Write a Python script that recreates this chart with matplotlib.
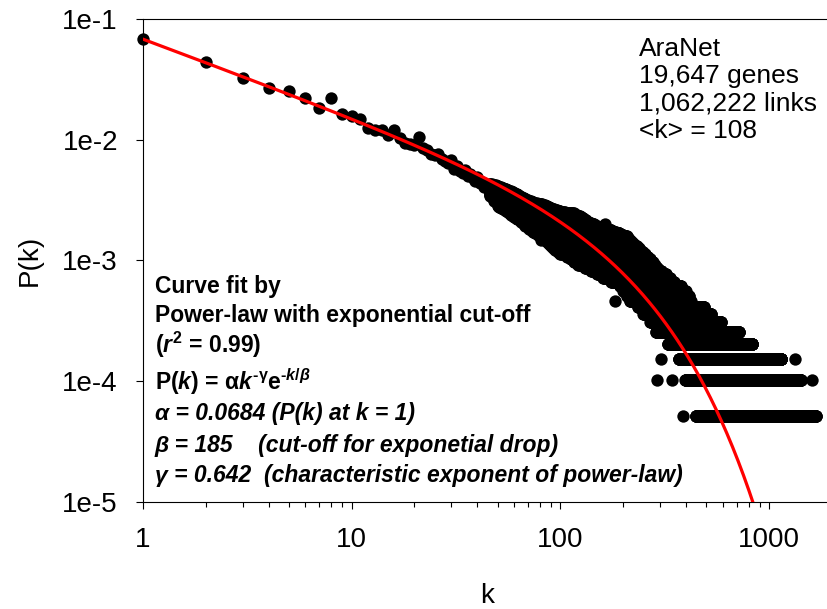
import numpy as np
import matplotlib
matplotlib.use("Agg")
import matplotlib.pyplot as plt
from matplotlib.ticker import FixedLocator, FixedFormatter, LogLocator, NullLocator, NullFormatter

plt.rcParams["font.family"] = "Liberation Sans"
plt.rcParams["mathtext.fontset"] = "custom"
plt.rcParams["mathtext.rm"] = "Liberation Sans:bold"
plt.rcParams["mathtext.it"] = "Liberation Sans:bold:italic"
plt.rcParams["mathtext.bf"] = "Liberation Sans:bold"

N_GENES = 19647

# power-law with exponential cut-off fit
ALPHA = 0.0684
BETA = 185
GAMMA = 0.642

# gene counts for each low degree
head_deg = list(range(1, 46))
head_cnt = [1330, 870, 633, 528, 499, 436, 356, 432, 320, 308,
            289, 246, 238, 236, 214, 236, 202, 185, 180, 176,
            206, 168, 160, 150, 146, 150, 135, 130, 125, 132,
            112, 118, 108, 104, 110, 98, 102, 94, 90, 96,
            86, 88, 80, 84, 78]

# higher degrees: for each count, the range of degrees that have it
level_cnt = list(range(1, 86))
level_kmin = [446, 397, 369, 327, 287, 270, 250, 235, 215, 208,
              200, 193, 175, 160, 150, 140, 131, 122, 116, 112,
              108, 100, 97, 94, 92, 90, 88, 86, 84, 82,
              80, 78, 76, 74, 72, 71, 70, 68, 67, 66,
              65, 64, 62, 61, 60, 59, 58, 57, 56, 55,
              54, 53, 52, 51, 50, 50, 50, 50, 50, 50,
              48, 48, 48, 48, 48, 48, 46, 46, 46, 46,
              46, 46, 46, 46, 46, 46, 46, 46, 46, 46,
              46, 46, 46, 46, 46]
level_kmax = [1672, 1417, 1144, 831, 717, 588, 527, 488, 421, 413,
              398, 378, 350, 335, 320, 305, 292, 283, 277, 270,
              262, 255, 248, 242, 237, 232, 225, 220, 215, 211,
              208, 200, 192, 184, 175, 166, 158, 150, 145, 140,
              136, 132, 130, 128, 126, 124, 120, 116, 105, 100,
              96, 93, 90, 88, 86, 84, 82, 80, 77, 74,
              72, 70, 68, 67, 66, 65, 64, 63, 62, 61,
              60, 59, 58, 57, 56, 55, 54, 53, 52, 51,
              50, 49, 48, 47, 46]

# stray points outside the main cloud
extra_deg = [385, 289, 341, 1610, 305, 1331, 183, 164, 81]
extra_cnt = [1, 2, 2, 2, 3, 3, 9, 39, 29]

deg = list(head_deg) + extra_deg
cnt = list(head_cnt) + extra_cnt
for c, k0, k1 in zip(level_cnt, level_kmin, level_kmax):
    ks = list(range(k0, k1 + 1))
    deg += ks
    cnt += [c] * len(ks)
deg = np.array(deg, dtype=float)
pk = np.array(cnt, dtype=float) / N_GENES

k_fit = np.logspace(0, np.log10(2000), 500)
p_fit = ALPHA * k_fit ** (-GAMMA) * np.exp(-k_fit / BETA)

x_ticks = [1, 10, 100, 1000]
x_tick_labels = ["1", "10", "100", "1000"]
y_ticks = [1e-5, 1e-4, 1e-3, 1e-2, 1e-1]
y_tick_labels = ["1e-5", "1e-4", "1e-3", "1e-2", "1e-1"]

fig = plt.figure(figsize=(8.27, 6.09), dpi=100)
ax = fig.add_axes([0.1729, 0.1765, 0.833, 0.7923])

ax.plot(deg, pk, "o", color="black", ms=8.9, mew=0, clip_on=False, zorder=2)
ax.plot(k_fit, p_fit, color="red", lw=2.3, zorder=3)

ax.set_xscale("log")
ax.set_yscale("log")
ax.set_xlim(1, 2000)
ax.set_ylim(1e-5, 1e-1)

ax.xaxis.set_major_locator(FixedLocator(x_ticks))
ax.xaxis.set_major_formatter(FixedFormatter(x_tick_labels))
ax.xaxis.set_minor_locator(LogLocator(base=10, subs=range(2, 10)))
ax.xaxis.set_minor_formatter(NullFormatter())
ax.yaxis.set_major_locator(FixedLocator(y_ticks))
ax.yaxis.set_major_formatter(FixedFormatter(y_tick_labels))
ax.yaxis.set_minor_locator(NullLocator())

ax.tick_params(which="major", direction="out", length=5, width=0.8, pad=13, labelsize=20)
ax.tick_params(which="minor", direction="out", length=3.5, width=0.8)
ax.tick_params(top=False, right=False, which="both")
ax.spines["right"].set_visible(False)
for s in ["left", "bottom", "top"]:
    ax.spines[s].set_linewidth(0.8)

ax.set_xlabel("k", fontsize=20, labelpad=22)
ax.set_ylabel("P(k)", fontsize=20, labelpad=14)

fig.text(639 / 827, 1 - 37 / 609,
         "AraNet\n19,647 genes\n1,062,222 links\n<k> = 108",
         fontsize=19, va="top", ha="left", linespacing=1.17)

def px(x, y):
    return x / 827, 1 - y / 609

tx = 155
fig.text(*px(tx, 292.7), "Curve fit by", fontsize=16.5, fontweight="bold")
fig.text(*px(tx, 321.7), "Power-law with exponential cut-off", fontsize=16.5, fontweight="bold")
fig.text(*px(tx, 352.7), r"($\mathit{r}^{2}$ = 0.99)", fontsize=16.5, fontweight="bold")
fig.text(*px(tx, 390),
         r"P($\mathit{k}$) = $\mathrm{\alpha}\mathit{k}^{\text{-}\mathrm{\gamma}}\mathrm{e}^{\text{-}\mathit{k/\beta}}$",
         fontsize=16.5, fontweight="bold")
fig.text(*px(tx, 420), "\u03b1 = 0.0684 (P(k) at k = 1)", fontsize=16.5,
         fontweight="bold", fontstyle="italic")
fig.text(*px(tx, 451.7), "\u03b2 = 185    (cut-off for exponetial drop)", fontsize=16.5,
         fontweight="bold", fontstyle="italic")
fig.text(*px(tx, 481.7), "\u03b3 = 0.642  (characteristic exponent of power-law)", fontsize=16.5,
         fontweight="bold", fontstyle="italic")

fig.savefig("out.png", dpi=100)
